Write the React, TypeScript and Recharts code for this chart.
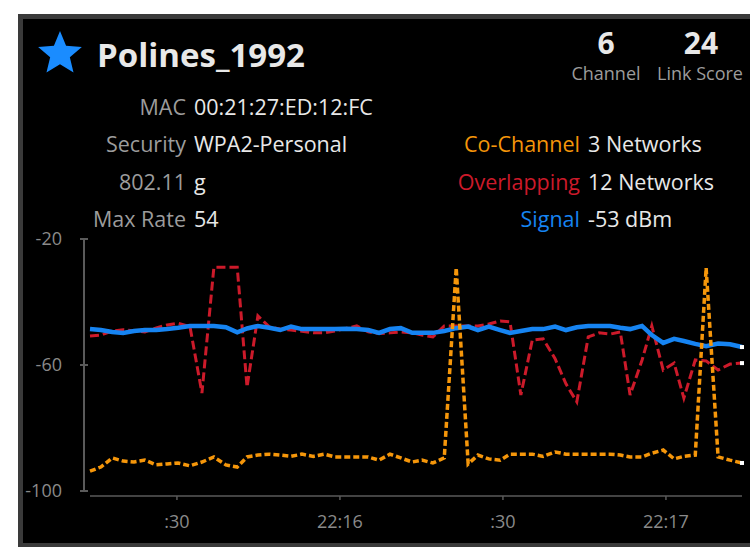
import React from "react";
import { LineChart, Line, XAxis, YAxis } from "recharts";

// seconds after 22:15:00
const times = [
  14.0, 16.0, 18.1, 20.1, 22.1, 24.1, 26.2, 28.2, 30.2, 32.4,
  34.6, 36.8, 39.0, 41.1, 42.9, 44.9, 47.0, 49.0, 51.0, 53.0,
  55.1, 57.1, 59.1, 61.1, 63.1, 65.2, 67.2, 69.2, 71.2, 73.3,
  75.1, 77.1, 79.2, 81.4, 83.6, 85.4, 87.4, 89.5, 91.3, 93.3,
  95.4, 97.4, 99.6, 101.6, 103.6, 105.7, 107.7, 109.7, 111.6, 113.4,
  115.6, 117.4, 119.5, 121.5, 123.3, 125.4, 127.4, 129.6, 131.8, 134.0,
];

const signal = [
  -48.6, -48.9, -49.5, -49.8, -49.2, -48.9, -48.9, -48.6, -48.2, -47.6,
  -47.6, -47.6, -48.0, -49.6, -48.4, -47.6, -48.2, -48.9, -47.8, -48.6,
  -48.6, -48.6, -48.6, -48.5, -48.6, -48.9, -49.8, -48.6, -48.3, -49.8,
  -49.8, -49.8, -49.2, -48.3, -47.8, -48.9, -47.8, -48.9, -49.8, -49.2,
  -48.6, -48.6, -47.8, -48.9, -48.0, -47.6, -47.6, -47.6, -48.2, -48.6,
  -47.6, -50.5, -53.0, -51.7, -52.4, -53.3, -54.0, -53.2, -53.4, -54.3,
];

const overlapping = [
  -50.8, -50.5, -49.2, -48.8, -49.2, -49.5, -48.2, -47.3, -46.7, -47.8,
  -68.9, -29.0, -29.0, -29.0, -67.0, -44.4, -47.9, -48.6, -48.9, -49.3,
  -49.8, -49.8, -49.2, -48.4, -47.6, -49.5, -50.0, -49.8, -49.5, -49.8,
  -50.5, -51.1, -47.6, -47.6, -47.6, -47.6, -47.0, -46.0, -46.3, -69.5,
  -52.1, -51.7, -58.0, -66.0, -71.7, -51.1, -49.8, -50.2, -49.5, -69.5,
  -58.5, -47.6, -61.6, -59.4, -70.5, -58.4, -58.7, -61.6, -59.7, -59.4,
];

const coChannel = [
  -93.7, -92.4, -89.5, -90.5, -90.8, -90.2, -91.7, -91.4, -91.1, -92.0,
  -90.8, -89.2, -91.7, -92.4, -89.2, -88.6, -88.3, -88.6, -89.0, -88.3,
  -89.0, -88.3, -89.2, -89.2, -89.2, -89.2, -90.2, -88.3, -89.5, -90.8,
  -90.2, -91.1, -89.5, -29.2, -91.4, -88.6, -89.8, -90.2, -88.3, -88.3,
  -88.3, -89.0, -87.6, -88.3, -88.3, -88.3, -88.3, -88.3, -88.6, -89.2,
  -89.2, -88.0, -87.0, -89.8, -89.0, -88.6, -29.2, -89.2, -90.2, -91.1,
];

const xTicks = [30, 60, 90, 120];
const xTickLabels = [":30", "22:16", ":30", "22:17"];
const yTicks = [-100, -60, -20];

const infoLabels = ["MAC", "Security", "802.11", "Max Rate"];
const infoValues = ["00:21:27:ED:12:FC", "WPA2-Personal", "g", "54"];
const statLabels = ["Co-Channel", "Overlapping", "Signal"];
const statValues = ["3 Networks", "12 Networks", "-53 dBm"];

const data = times.map((t, i) => ({
  t,
  signal: signal[i],
  overlap: overlapping[i],
  co: coChannel[i],
}));

const FONT = "'Open Sans', 'Noto Sans', sans-serif";
const BLUE = "#1684f2";
const RED = "#cc1a2a";
const ORANGE = "#f5960a";
const AXIS = "#5a5a5a";
const LABEL = "#9c9c9c";
const VALUE = "#e8e8e8";

const endDot = (props: any) => {
  const { cx, cy, index } = props;
  if (index !== times.length - 1) return <g key={`d-${index}`} />;
  return (
    <rect key={`d-${index}`} x={cx - 2} y={cy - 2} width={4} height={4} fill="#fff" />
  );
};

const starPoints = (cx: number, cy: number, r: number) => {
  const pts: string[] = [];
  for (let i = 0; i < 10; i++) {
    const rad = i % 2 === 0 ? r : r * 0.45;
    const a = -Math.PI / 2 + (i * Math.PI) / 5;
    pts.push(`${cx + rad * Math.cos(a)},${cy + rad * Math.sin(a)}`);
  }
  return pts.join(" ");
};

const rowY = [115, 152, 190, 227];
const ROW_FONT = 21.5;

export default function App() {
  return (
    <div
      style={{
        position: "absolute",
        left: 0,
        top: 0,
        width: 750,
        height: 547,
        overflow: "hidden",
        background: "#fff",
      }}
    >
      <div
        style={{
          position: "absolute",
          left: 18,
          top: 14,
          width: 732,
          height: 533,
          boxSizing: "border-box",
          background: "#000",
          borderLeft: "5px solid #3a3a3a",
          borderTop: "5px solid #3a3a3a",
          borderBottom: "4px solid #3a3a3a",
        }}
      />
      <div style={{ position: "absolute", left: 0, top: 0 }}>
        <LineChart
          width={750}
          height={547}
          data={data}
          margin={{ top: 239, right: 8, bottom: 26, left: 0 }}
        >
          <XAxis
            dataKey="t"
            type="number"
            domain={[14, 134]}
            ticks={xTicks}
            tickFormatter={(v: number) => xTickLabels[xTicks.indexOf(v)]}
            height={30}
            tickSize={4}
            tickMargin={20}
            axisLine={{ stroke: AXIS, strokeWidth: 1.5, transform: "translate(0,5)" }}
            tickLine={{ stroke: AXIS, strokeWidth: 1.5, transform: "translate(0,5)" }}
            tick={{ fill: "#8a8a8a", fontSize: 18, fontFamily: FONT }}
          />
          <YAxis
            type="number"
            domain={[-100, -20]}
            ticks={yTicks}
            width={90}
            tickSize={8}
            tickMargin={20}
            axisLine={{ stroke: AXIS, strokeWidth: 2, transform: "translate(-6,0)" }}
            tickLine={{ stroke: AXIS, strokeWidth: 2, transform: "translate(-2,0)" }}
            tick={{ fill: "#8a8a8a", fontSize: 18, fontFamily: FONT }}
          />
          <Line
            dataKey="overlap"
            type="linear"
            stroke={RED}
            strokeWidth={3}
            strokeDasharray="9 4"
            dot={endDot}
            activeDot={false}
            isAnimationActive={false}
          />
          <Line
            dataKey="signal"
            type="linear"
            stroke={BLUE}
            strokeWidth={4.5}
            dot={endDot}
            activeDot={false}
            isAnimationActive={false}
          />
          <Line
            dataKey="co"
            type="linear"
            stroke={ORANGE}
            strokeWidth={3.5}
            strokeDasharray="6 3"
            dot={endDot}
            activeDot={false}
            isAnimationActive={false}
          />
        </LineChart>
      </div>
      <svg
        width={750}
        height={547}
        style={{ position: "absolute", left: 0, top: 0, pointerEvents: "none" }}
        fontFamily={FONT}
      >
        <polygon points={starPoints(60, 54, 23)} fill="#1a8cff" />
        <text x={97} y={67} fontSize={33} fontWeight={700} fill={VALUE}>
          Polines_1992
        </text>
        <text x={606} y={54} fontSize={30} fontWeight={700} fill={VALUE} textAnchor="middle">
          6
        </text>
        <text x={701} y={54} fontSize={30} fontWeight={700} fill={VALUE} textAnchor="middle">
          24
        </text>
        <text x={606} y={80} fontSize={18} fill={LABEL} textAnchor="middle">
          Channel
        </text>
        <text x={700} y={80} fontSize={18} fill={LABEL} textAnchor="middle">
          Link Score
        </text>
        {infoLabels.map((l, i) => (
          <g key={l}>
            <text x={186} y={rowY[i]} fontSize={ROW_FONT} fill={LABEL} textAnchor="end">
              {l}
            </text>
            <text x={194} y={rowY[i]} fontSize={ROW_FONT} fill={VALUE}>
              {infoValues[i]}
            </text>
          </g>
        ))}
        {statLabels.map((l, i) => (
          <g key={l}>
            <text
              x={580}
              y={rowY[i + 1]}
              fontSize={ROW_FONT}
              fill={[ORANGE, RED, BLUE][i]}
              textAnchor="end"
            >
              {l}
            </text>
            <text x={588} y={rowY[i + 1]} fontSize={ROW_FONT} fill={VALUE}>
              {statValues[i]}
            </text>
          </g>
        ))}
      </svg>
    </div>
  );
}
